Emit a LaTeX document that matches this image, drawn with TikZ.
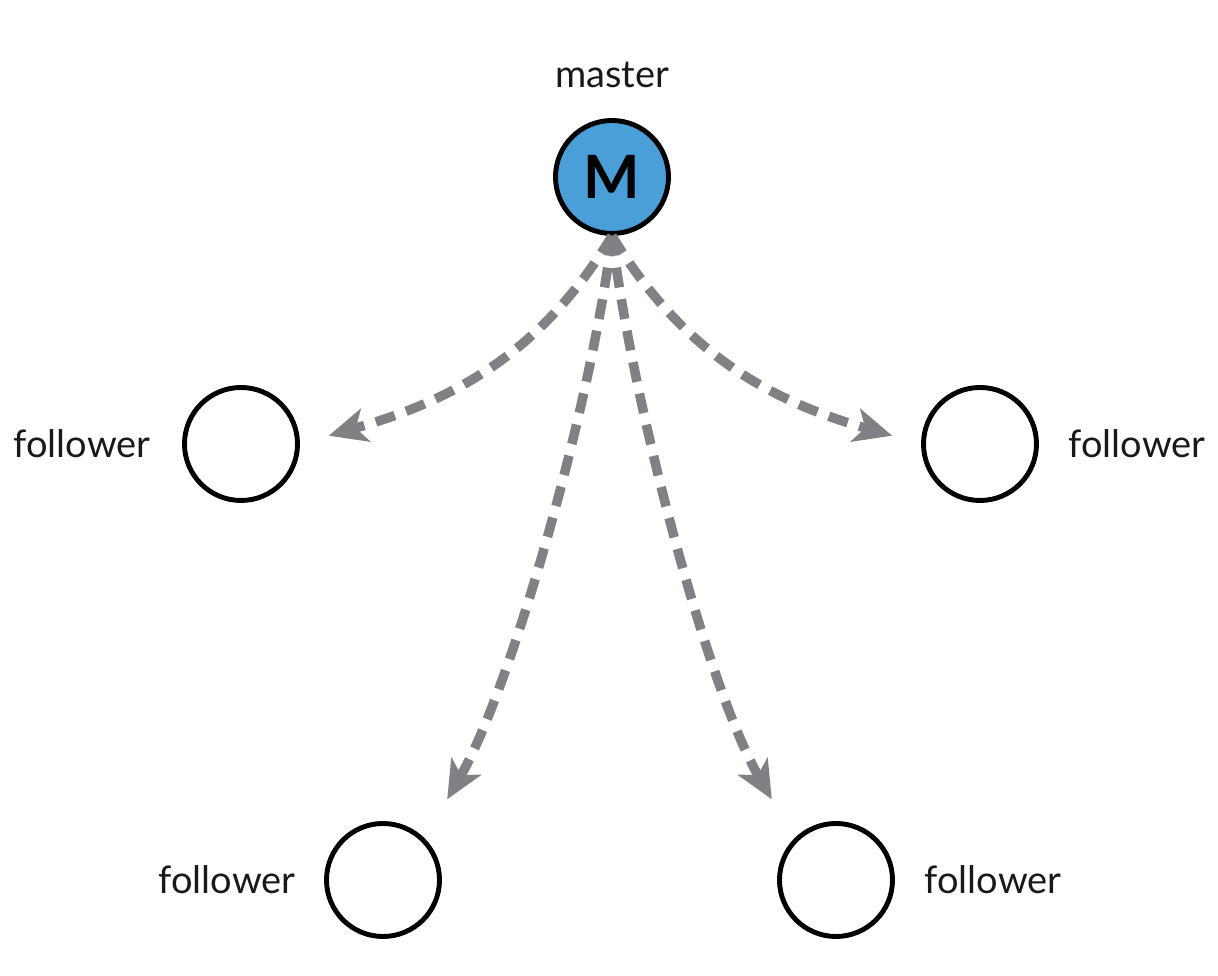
\documentclass[tikz,border=0pt]{standalone}
\usepackage{fontspec}
\setmainfont{Lato}
\usetikzlibrary{arrows.meta}
\definecolor{masterblue}{HTML}{4A9FD8}
\definecolor{arrowgray}{HTML}{808184}
\begin{document}
\begin{tikzpicture}[
    member/.style={circle, draw=black, line width=1.4pt, minimum size=1.13cm, inner sep=0pt},
    tag/.style={font=\fontsize{10.8}{13}\selectfont, text=black!90},
    push/.style={draw=arrowgray, line width=2.7pt, dash pattern=on 0.2cm off 0.12cm,
      -{Stealth[length=0.38cm, width=0.34cm, inset=0.1cm]}}
  ]
      \useasboundingbox (0,0) rectangle (12.18,9.76);
      \node[tag] at (6.12,9.01) (mastertag) {master};
      \node[member, fill=masterblue, font=\fontsize{17}{20}\bfseries] at (6.12,7.99) (M) {M};
      \node[member] at (2.41,5.32) (F1) {};
      \node[member] at (9.80,5.32) (F2) {};
      \node[member] at (3.83,0.96) (F3) {};
      \node[member] at (8.36,0.96) (F4) {};
      \node[tag] at (0.82,5.32) (F1tag) {follower};
      \node[tag] at (11.37,5.32) (F2tag) {follower};
      \node[tag] at (2.27,0.96) (F3tag) {follower};
      \node[tag] at (9.93,0.96) (F4tag) {follower};
      \draw[push, shorten >=0.3cm] (M.south) to[out=-121, in=16] (F1.east);
      \draw[push, shorten >=0.3cm] (M.south) to[out=-59, in=164] (F2.west);
      \draw[push, shorten >=0.45cm] (M.south) to[out=-97, in=60, looseness=0.7] (F3.north east);
      \draw[push, shorten >=0.45cm] (M.south) to[out=-83, in=120, looseness=0.7] (F4.north west);
    \end{tikzpicture}
\end{document}
